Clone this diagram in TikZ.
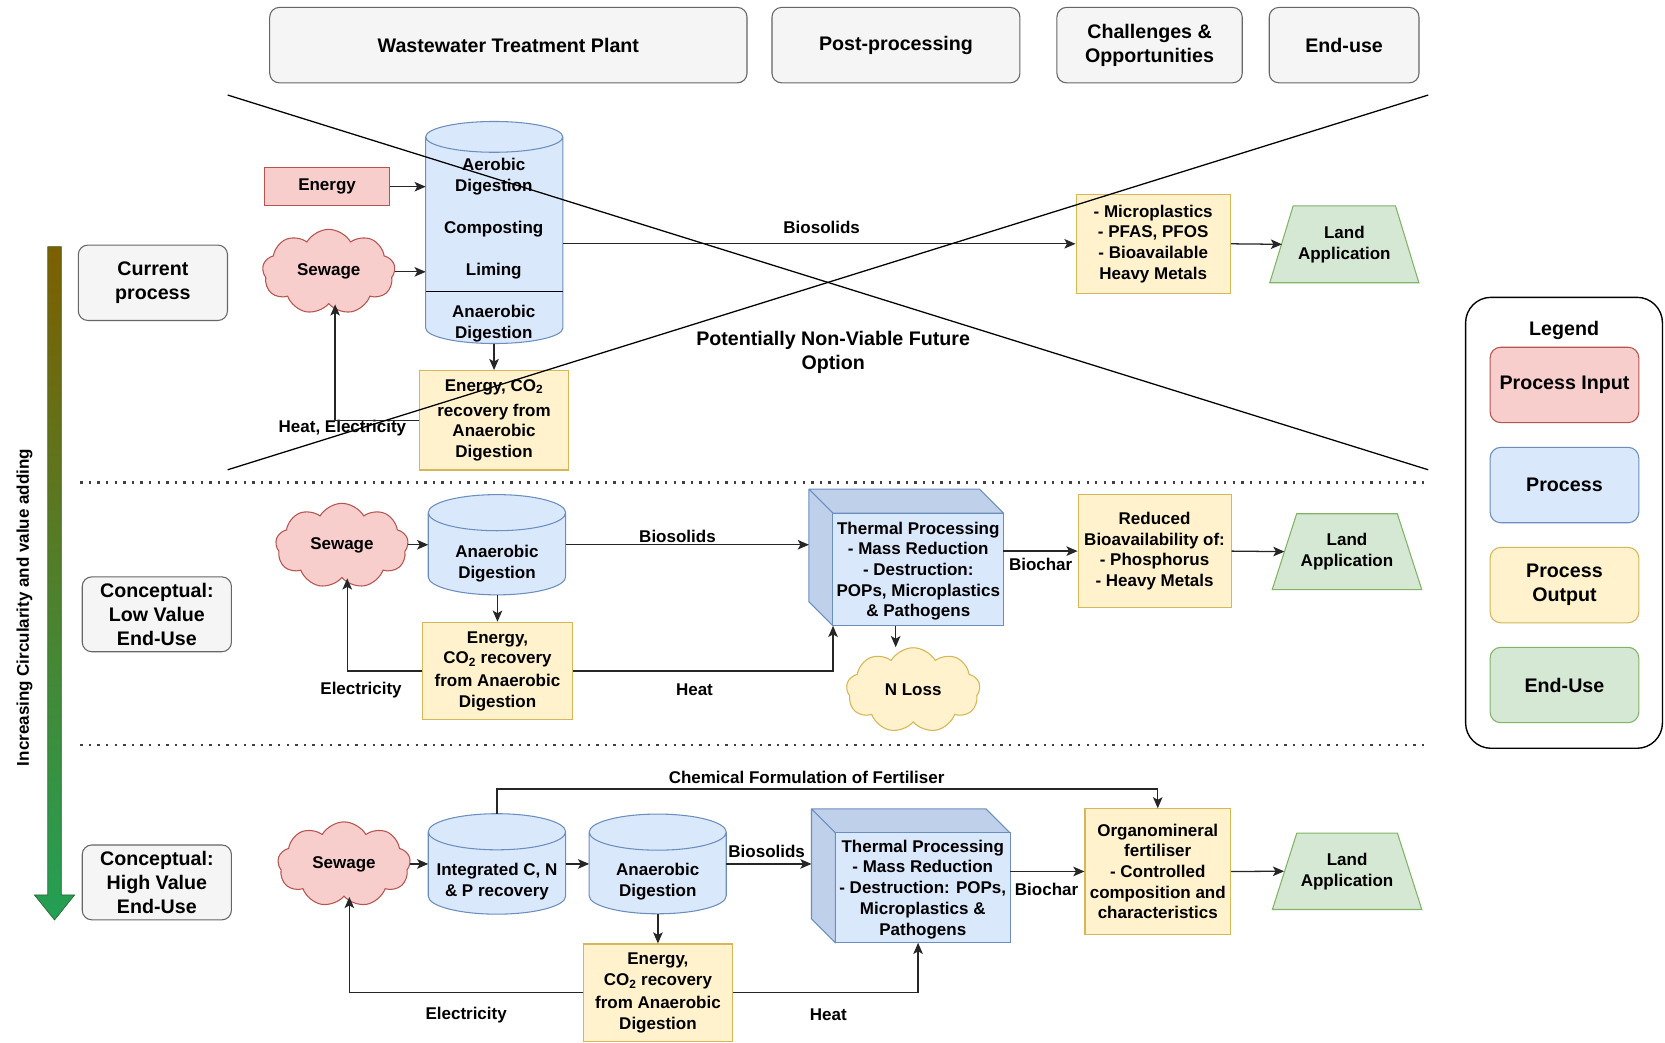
\documentclass[tikz,border=0pt]{standalone}
\usepackage{fontspec}
\setmainfont{Liberation Sans}
\usetikzlibrary{arrows.meta,shapes.symbols,calc}
\pgfdeclarelayer{bglayer}
\pgfsetlayers{bglayer,main}
\definecolor{redF}{HTML}{F8CECC}\definecolor{redD}{HTML}{B85450}
\definecolor{blueF}{HTML}{DAE8FC}\definecolor{blueD}{HTML}{6C8EBF}
\definecolor{yelF}{HTML}{FFF2CC}\definecolor{yelD}{HTML}{D6B656}
\definecolor{grnF}{HTML}{D5E8D4}\definecolor{grnD}{HTML}{82B366}
\definecolor{gryF}{HTML}{F5F5F5}\definecolor{gryD}{HTML}{666666}
\definecolor{cubeS}{HTML}{BFD0EA}
\definecolor{lineC}{HTML}{262626}
\definecolor{arrTop}{RGB}{125,95,0}
\definecolor{arrBot}{RGB}{35,160,85}
\definecolor{arrEdge}{RGB}{40,100,50}
\tikzset{
  t16/.style={font=\bfseries\fontsize{16}{19.5}\selectfont, align=center, inner sep=0pt},
  t18/.style={font=\bfseries\fontsize{18.5}{22.5}\selectfont, align=center, inner sep=0pt},
  grybox/.style={t18, draw=gryD, fill=gryF, rounded corners=9pt, line width=1pt},
  inbox/.style={t16, draw=redD, fill=redF, line width=1pt},
  outbox/.style={t16, draw=yelD, fill=yelF, line width=1pt},
  shapeframe/.style={draw=none, inner sep=0pt},
  sewage/.style={t16, cloud, cloud puffs=9, cloud puff arc=120, aspect=1.55, draw=redD, fill=redF, line width=1pt, minimum width=125pt, minimum height=80pt},
  nlosscloud/.style={t16, cloud, cloud puffs=9, cloud puff arc=120, aspect=1.55, draw=yelD, fill=yelF, line width=1pt, minimum width=126pt, minimum height=80pt},
  conn/.style={draw=lineC, line width=1.2pt, -{Stealth[length=10.5pt,width=9pt,inset=2.5pt]}},
  xline/.style={draw=black, line width=1.2pt},
  divline/.style={draw=black!75, line width=2.2pt, dash pattern=on 2.2pt off 5.9pt},
  legitem/.style={t18, rounded corners=10pt, line width=1pt, minimum width=140pt, minimum height=71pt},
}
\newcommand{\cylshape}[2]{%
  \path[draw=blueD, fill=blueF, line width=1pt]
   let \p1=(#1.north west), \p2=(#1.south east) in
   (\x1,\y1-#2) -- (\x1,\y2+#2)
   arc[start angle=180, end angle=360, x radius={(\x2-\x1)/2}, y radius=#2]
   -- (\x2,\y1-#2)
   arc[start angle=0, end angle=180, x radius={(\x2-\x1)/2}, y radius=#2]
   -- cycle
   (\x1,\y1-#2)
   arc[start angle=180, end angle=360, x radius={(\x2-\x1)/2}, y radius=#2];
}
\newcommand{\cubeshape}[2]{%
  \path[draw=blueD, fill=cubeS, line width=1pt, line join=round]
   let \p1=(#1.north west), \p2=(#1.south east) in
   (\x1,\y1) -- (\x2-#2,\y1) -- (\x2,\y1-#2) -- (\x1+#2,\y1-#2) -- cycle
   (\x1,\y1) -- (\x1+#2,\y1-#2) -- (\x1+#2,\y2) -- (\x1,\y2+#2) -- cycle;
  \path[draw=blueD, fill=blueF, line width=1pt]
   let \p1=(#1.north west), \p2=(#1.south east) in
   (\x1+#2,\y1-#2) rectangle (\x2,\y2);
}
\newcommand{\trapshape}[2]{%
  \path[draw=grnD, fill=grnF, line width=1pt]
   let \p1=(#1.north west), \p2=(#1.south east) in
   (\x1,\y2) -- (\x2,\y2) -- (\x2-#2,\y1) -- (\x1+#2,\y1) -- cycle;
}
\begin{document}
\begin{tikzpicture}[x=1pt,y=-1pt]
\useasboundingbox (0,0) rectangle (1568,982);

% ---------- headers ----------
\node[grybox, minimum width=449.5pt, minimum height=71pt] (h1) at (478.75,42.5) {Wastewater Treatment Plant};
\node[grybox, minimum width=233.5pt, minimum height=71pt] (h2) at (843.75,42.5) {Post-processing};
\node[grybox, minimum width=174.5pt, minimum height=71pt] (h3) at (1082.6,42.5) {Challenges \&\\Opportunities};
\node[grybox, minimum width=141pt, minimum height=71pt] (h4) at (1265.8,42.5) {End-use};

% ---------- side labels ----------
\node[grybox, minimum width=140.5pt, minimum height=71pt] (s1) at (144,266.3) {Current\\process};
\node[grybox, minimum width=140.5pt, minimum height=70.5pt] (s2) at (147.7,578.5) {Conceptual:\\Low Value\\End-Use};
\node[grybox, minimum width=140.5pt, minimum height=70.5pt] (s3) at (147.7,831) {Conceptual:\\High Value\\End-Use};

% ---------- vertical arrow ----------
\path[top color=arrTop, bottom color=arrBot, draw=arrEdge, line width=0.6pt]
  (45,232.3) -- (57.7,232.3) -- (57.7,842.8) -- (70.3,842.8) -- (51.35,866.4) -- (32.4,842.8) -- (45,842.8) -- cycle;
\node[t16, rotate=90] (vlab) at (23,572) {Increasing Circularity and value adding};

% ---------- separators ----------
\coordinate (d1a) at (75.5,454.5); \coordinate (d1b) at (1345,454.5);
\coordinate (d2a) at (75.5,701.5); \coordinate (d2b) at (1345,701.5);
\draw[divline] (d1a) -- (d1b);
\draw[divline] (d2a) -- (d2b);

% ---------- row 1 ----------
\node[inbox, minimum width=117.5pt, minimum height=36pt] (en1) at (308,175.8) {Energy};
\node[sewage] (sw1) at (309.6,256) {Sewage};
\node[shapeframe, minimum width=128.7pt, minimum height=208.7pt] (cy1) at (465.45,218.95) {};
\node[t16] (cy1a) at (465,166.5) {Aerobic\\Digestion};
\node[t16] (cy1b) at (465,216) {Composting};
\node[t16] (cy1c) at (465,255.3) {Liming};
\node[t16] (cy1d) at (465,305) {Anaerobic\\Digestion};
\coordinate (div1) at (465,274.7);
\node[outbox, minimum width=140pt, minimum height=93.6pt] (e1) at (465.25,395.8) {Energy, CO\textsubscript{2}\\[4pt]recovery from\\Anaerobic\\Digestion};
\node[outbox, minimum width=145.3pt, minimum height=93.2pt] (o1) at (1086,229.6) {- Microplastics\\- PFAS, PFOS\\- Bioavailable\\Heavy Metals};
\node[shapeframe, t16, minimum width=140pt, minimum height=72pt] (la1) at (1266,230.1) {Land\\Application};
\node[t16] (lb1) at (773.8,214.5) {Biosolids};
\node[t16] (lb2) at (322.5,402.8) {Heat, Electricity};
\node[t18] (nv) at (784.6,332) {Potentially Non-Viable Future\\Option};

\draw[draw=black, line width=1.2pt] (cy1.west |- div1) -- (cy1.east |- div1);
\draw[conn] (en1.east) -- (en1.east -| cy1.west);
\draw[conn] (sw1.east) -- (sw1.east -| cy1.west);
\draw[conn] (cy1.east |- o1.west) -- (o1.west);
\draw[conn] (o1.east) -- ([xshift=11.5pt]la1.west);
\draw[conn] (cy1.south -| e1.north) -- (e1.north);
\draw[conn] (e1.west) -| ($(sw1.south)+(6,0)$);

% ---------- row 2 ----------
\node[sewage] (sw2) at (322,514) {Sewage};
\node[shapeframe, minimum width=129pt, minimum height=94pt] (cy2) at (468,513) {};
\node[t16] (cy2t) at (468,530.5) {Anaerobic\\Digestion};
\node[shapeframe, minimum width=182.8pt, minimum height=128.4pt] (th2) at (853.4,525) {};
\node[t16] (th2t) at (864.8,537.8) {Thermal Processing\\- Mass Reduction\\- Destruction:\\POPs, Microplastics\\\& Pathogens};
\node[outbox, minimum width=140.6pt, minimum height=92pt] (e2) at (468.5,632) {Energy,\\CO\textsubscript{2} recovery\\[2pt]from Anaerobic\\Digestion};
\node[nlosscloud] (nl) at (860,650) {N Loss};
\node[outbox, minimum width=144pt, minimum height=106pt] (o2) at (1087.3,519) {Reduced\\Bioavailability of:\\- Phosphorus\\- Heavy Metals};
\node[shapeframe, t16, minimum width=140.4pt, minimum height=71pt] (la2) at (1268.5,519.5) {Land\\Application};
\node[t16] (lb3) at (638,505) {Biosolids};
\node[t16] (lb4) at (340,650) {Electricity};
\node[t16] (lb5) at (654,650) {Heat};
\node[t16] (lb6) at (980,532) {Biochar};
\coordinate (nlx) at (843.5,0);

\draw[conn] (sw2.east |- cy2.west) -- (cy2.west);
\draw[conn] (cy2.east) -- (cy2.east -| th2.west);
\draw[conn] (cy2.south -| e2.north) -- (e2.north);
\draw[conn] (e2.west) -| ($(sw2.south)+(5,0)$);
\draw[conn] (e2.east) -| ($(th2.south west)+(22.7,0)$);
\draw[conn] (th2.south -| nlx) -- (nl.north -| nlx);
\draw[conn] (th2.east |- o2.west) -- (o2.west);
\draw[conn] (o2.east) -- ([xshift=11.5pt]la2.west);

% ---------- row 3 ----------
\node[sewage] (sw3) at (324,814) {Sewage};
\node[shapeframe, minimum width=129pt, minimum height=94.2pt] (cy3a) at (468,813.6) {};
\node[t16] (cy3at) at (468,830.5) {Integrated C, N\\\& P recovery};
\node[shapeframe, minimum width=128.7pt, minimum height=93.5pt] (cy3b) at (619.4,813.6) {};
\node[t16] (cy3bt) at (619.4,830.2) {Anaerobic\\Digestion};
\node[shapeframe, minimum width=186.6pt, minimum height=125.7pt] (th3) at (857.7,824.85) {};
\node[t16] (th3t) at (869,837.5) {Thermal Processing\\- Mass Reduction\\- Destruction: POPs,\\Microplastics \&\\Pathogens};
\node[outbox, minimum width=140.7pt, minimum height=92pt] (e3) at (619.6,935) {Energy,\\CO\textsubscript{2} recovery\\[2pt]from Anaerobic\\Digestion};
\node[outbox, minimum width=137pt, minimum height=118pt] (o3) at (1090.3,820.7) {Organomineral\\fertiliser\\- Controlled\\composition and\\characteristics};
\node[shapeframe, t16, minimum width=140.3pt, minimum height=71.6pt] (la3) at (1268.6,820.5) {Land\\Application};
\node[t16] (lb7) at (759.6,732) {Chemical Formulation of Fertiliser};
\node[t16] (lb8) at (722,802) {Biosolids};
\node[t16] (lb9) at (439,956) {Electricity};
\node[t16] (lb10) at (780,956) {Heat};
\node[t16] (lb11) at (985.6,838) {Biochar};
\coordinate (chy) at (0,743);

\draw[conn] (sw3.east |- cy3a.west) -- (cy3a.west);
\draw[conn] (cy3a.east) -- (cy3b.west);
\draw[conn] (cy3b.east) -- (cy3b.east -| th3.west);
\draw[conn] (cy3b.south -| e3.north) -- (e3.north);
\draw[conn] (e3.west) -| ($(sw3.south)+(5,0)$);
\draw[conn] (e3.east) -| ($(th3.south west)+(100.4,0)$);
\draw[conn] (th3.east |- o3.west) -- (o3.west);
\draw[conn] (o3.east) -- ([xshift=11pt]la3.west);
\draw[conn] (cy3a.north) -- (cy3a.north |- chy) -| (o3.north);

% ---------- crossing lines ----------
\coordinate (xa) at (214.4,89.5); \coordinate (xb) at (1345,442.4);
\coordinate (xc) at (214.4,442.4); \coordinate (xd) at (1345,89.5);
\draw[xline] (xa) -- (xb);
\draw[xline] (xc) -- (xd);

% ---------- legend ----------
\node[draw=black, line width=1.3pt, rounded corners=24pt, fill=white, minimum width=185.4pt, minimum height=424.7pt] (lg) at (1472.9,492.35) {};
\node[t18] (lgt) at (1473,311) {Legend};
\node[legitem, draw=redD, fill=redF] (lg1) at (1473.3,362.5) {Process Input};
\node[legitem, draw=blueD, fill=blueF] (lg2) at (1473.3,456.8) {Process};
\node[legitem, draw=yelD, fill=yelF] (lg3) at (1473.3,551) {Process\\Output};
\node[legitem, draw=grnD, fill=grnF] (lg4) at (1473.3,645.1) {End-Use};

% ---------- background shapes ----------
\begin{pgfonlayer}{bglayer}
  \fill[white] (0,0) rectangle (1568,982);
  \cylshape{cy1}{14.5pt}
  \cylshape{cy2}{17pt}
  \cylshape{cy3a}{17pt}
  \cylshape{cy3b}{17pt}
  \cubeshape{th2}{22.6pt}
  \cubeshape{th3}{22.6pt}
  \trapshape{la1}{22pt}
  \trapshape{la2}{23pt}
  \trapshape{la3}{23pt}
\end{pgfonlayer}
\end{tikzpicture}
\end{document}
